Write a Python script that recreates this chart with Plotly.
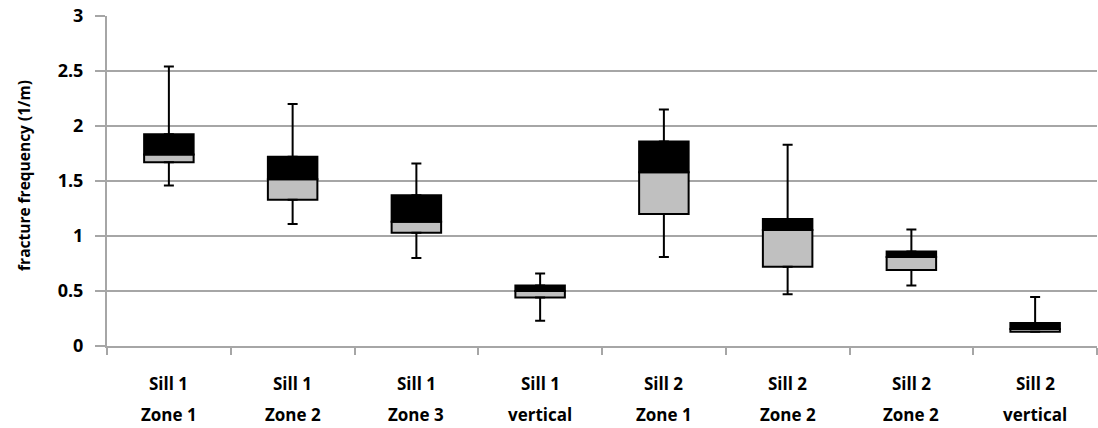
import plotly.graph_objects as go

# Fracture-frequency box plot per sill / zone
sills = ["Sill 1", "Sill 1", "Sill 1", "Sill 1", "Sill 2", "Sill 2", "Sill 2", "Sill 2"]
zones = ["Zone 1", "Zone 2", "Zone 3", "vertical", "Zone 1", "Zone 2", "Zone 2", "vertical"]
minimum = [1.46, 1.11, 0.80, 0.23, 0.81, 0.47, 0.55, 0.13]
q1 = [1.67, 1.33, 1.03, 0.44, 1.20, 0.72, 0.69, 0.13]
median = [1.74, 1.515, 1.13, 0.50, 1.58, 1.055, 0.81, 0.155]
q3 = [1.925, 1.72, 1.37, 0.55, 1.86, 1.155, 0.86, 0.21]
maximum = [2.54, 2.20, 1.66, 0.66, 2.15, 1.83, 1.06, 0.445]
y_ticks = [0, 0.5, 1, 1.5, 2, 2.5, 3]

# unique category keys (two groups share the "Sill 2 Zone 2" name)
cats = [f"{i}" for i in range(len(sills))]

GRID = "#a6a6a6"
FONT = "Open Sans, DejaVu Sans, sans-serif"

fig = go.Figure()

# lower half of each box: Q1 -> median
fig.add_trace(go.Bar(
    x=cats, base=q1, y=[m - a for m, a in zip(median, q1)],
    width=0.4, marker=dict(color="#c0c0c0", line=dict(color="black", width=2)),
    showlegend=False, hoverinfo="skip"))
# upper half of each box: median -> Q3
fig.add_trace(go.Bar(
    x=cats, base=median, y=[b - m for b, m in zip(q3, median)],
    width=0.4, marker=dict(color="black", line=dict(color="black", width=2)),
    showlegend=False, hoverinfo="skip"))

# whiskers: Q3 -> max and Q1 -> min
fig.add_trace(go.Scatter(
    x=cats, y=q3, mode="markers", marker=dict(size=0.1, color="rgba(0,0,0,0)"),
    error_y=dict(type="data", symmetric=False,
                 array=[mx - b for mx, b in zip(maximum, q3)],
                 arrayminus=[0] * len(q3), color="black", thickness=2, width=5),
    showlegend=False, hoverinfo="skip"))
fig.add_trace(go.Scatter(
    x=cats, y=q1, mode="markers", marker=dict(size=0.1, color="rgba(0,0,0,0)"),
    error_y=dict(type="data", symmetric=False,
                 array=[0] * len(q1),
                 arrayminus=[a - mn for a, mn in zip(q1, minimum)],
                 color="black", thickness=2, width=5),
    showlegend=False, hoverinfo="skip"))

# two-line category labels under the axis
label_font = dict(family=FONT, size=17, color="black", weight="bold")
annotations = []
for c, s, z in zip(cats, sills, zones):
    annotations.append(dict(x=c, xref="x", y=0, yref="paper", text=s, showarrow=False,
                            yanchor="middle", yshift=-37, font=label_font))
    annotations.append(dict(x=c, xref="x", y=0, yref="paper", text=z, showarrow=False,
                            yanchor="middle", yshift=-68, font=label_font))
# y axis title
annotations.append(dict(x=-0.084, xref="paper", y=0.518, yref="paper",
                        text="fracture frequency (1/m)", textangle=-90, showarrow=False,
                        xanchor="center", yanchor="middle",
                        font=dict(family=FONT, size=15.5, color="black", weight="bold")))

fig.update_layout(
    width=1098, height=428,
    margin=dict(l=107, r=1, t=16, b=82),
    barmode="overlay",
    plot_bgcolor="white", paper_bgcolor="white",
    font=dict(family=FONT, size=15, color="black"),
    annotations=annotations,
)
fig.update_xaxes(
    type="category", tickson="boundaries", showticklabels=False,
    showline=True, linecolor=GRID, linewidth=2,
    ticks="outside", ticklen=7, tickcolor=GRID, tickwidth=1.5,
    showgrid=False,
)
fig.update_yaxes(
    range=[0, 3], tickvals=y_ticks, ticktext=[f"{v:g}" for v in y_ticks],
    showline=True, linecolor=GRID, linewidth=2,
    ticks="outside", ticklen=10, tickcolor=GRID, tickwidth=1.5,
    showgrid=True, gridcolor=GRID, gridwidth=1.5,
    zeroline=False, ticklabelstandoff=8,
    tickfont=dict(family=FONT, size=18, color="black", weight="bold"),
)

fig.write_html("out.html")
